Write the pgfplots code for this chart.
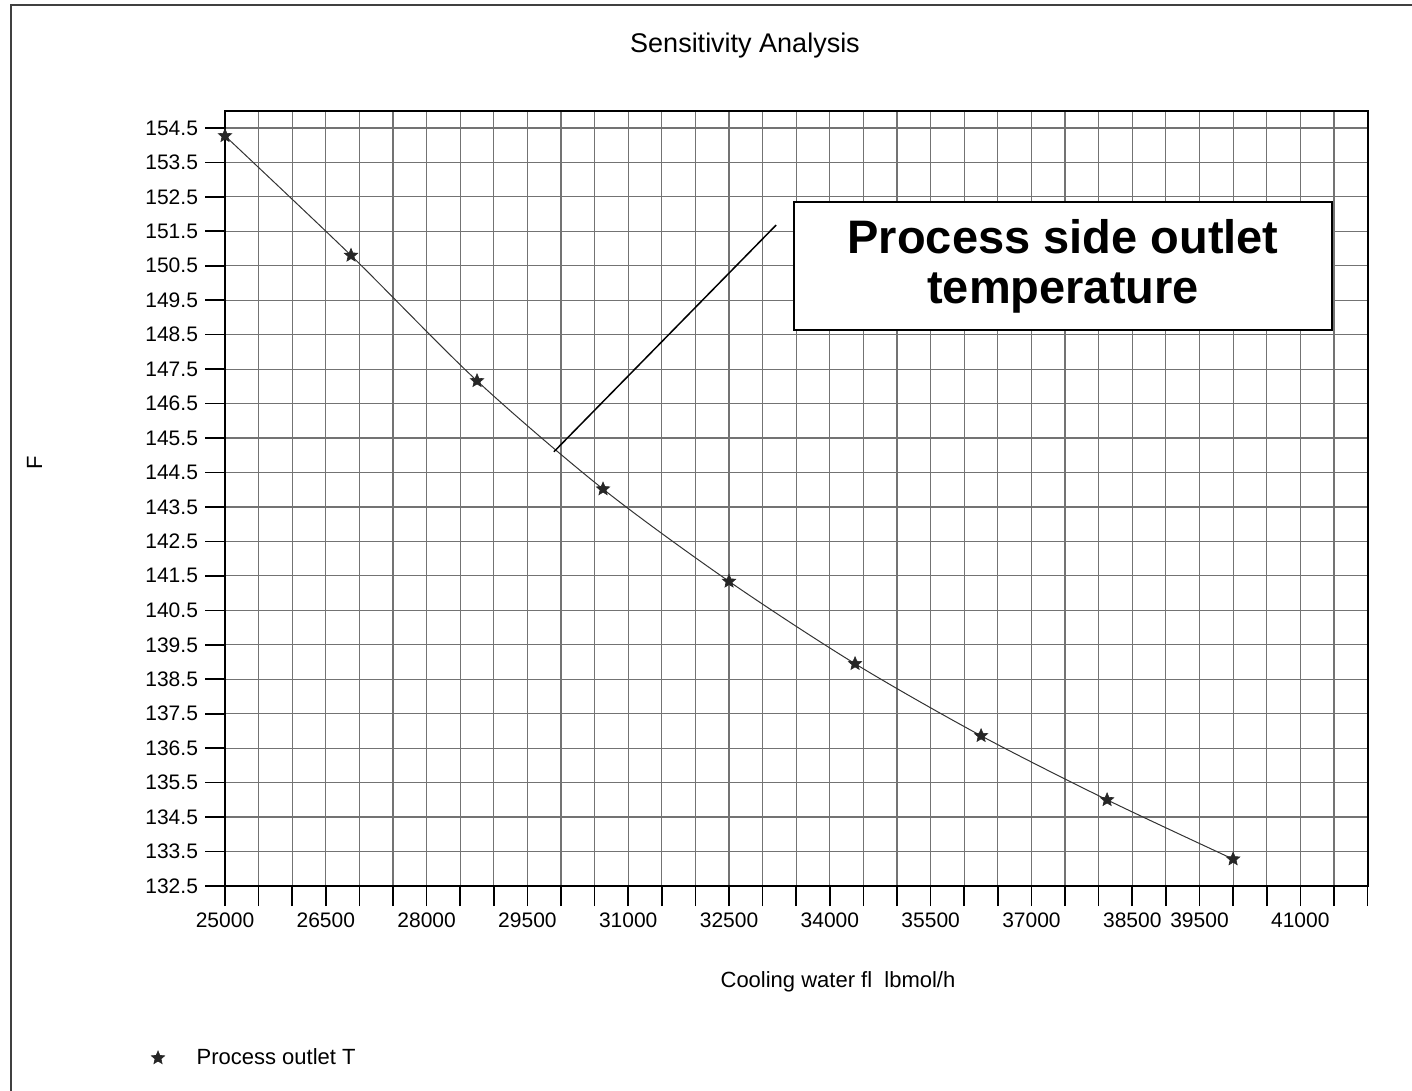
\documentclass[border=0pt]{standalone}
\usepackage{fontspec}
\setmainfont{Liberation Sans}
\usepackage{pgfplots}
\pgfplotsset{compat=1.18}

\pgfdeclareplotmark{fstar}{%
  \pgfpathmoveto{\pgfpointpolar{90}{\pgfplotmarksize}}%
  \pgfpathlineto{\pgfpointpolar{126}{0.45\pgfplotmarksize}}%
  \pgfpathlineto{\pgfpointpolar{162}{\pgfplotmarksize}}%
  \pgfpathlineto{\pgfpointpolar{198}{0.45\pgfplotmarksize}}%
  \pgfpathlineto{\pgfpointpolar{234}{\pgfplotmarksize}}%
  \pgfpathlineto{\pgfpointpolar{270}{0.45\pgfplotmarksize}}%
  \pgfpathlineto{\pgfpointpolar{306}{\pgfplotmarksize}}%
  \pgfpathlineto{\pgfpointpolar{342}{0.45\pgfplotmarksize}}%
  \pgfpathlineto{\pgfpointpolar{18}{\pgfplotmarksize}}%
  \pgfpathlineto{\pgfpointpolar{54}{0.45\pgfplotmarksize}}%
  \pgfpathclose
  \pgfusepathqfillstroke}

\begin{document}
\begin{tikzpicture}
\useasboundingbox (0,0) rectangle (706pt,545.5pt);
\draw[line width=1pt, black!75] (5.35pt,0pt) -- (5.35pt,543pt) -- (706pt,543pt);
\begin{axis}[
  at={(112.5pt,102.5pt)}, anchor=south west,
  scale only axis, width=571.25pt, height=387.65pt,
  xmin=25000, xmax=42000, ymin=132.5, ymax=155,
  xtick={25000,25500,...,42000},
  xticklabels={25000,,,26500,,,28000,,,29500,,,31000,,,32500,,,34000,,,35500,,,37000,,,38500,,39500,,,41000,,},
  ytick={132.5,133.5,...,154.5},
  scaled x ticks=false,
  grid=major,
  major grid style={black!55, line width=0.6pt},
  tick align=outside, tick pos=left,
  major tick length=10pt,
  tick style={black, line width=0.8pt},
  axis line style={black, line width=1pt},
  y tick label style={/pgf/number format/.cd, fixed, fixed zerofill, precision=1},
  /pgf/number format/assume math mode=true,
  tick label style={font=\fontsize{10.5}{12}\selectfont},
  legend style={draw=none, fill=none, at={(axis description cs:-0.0648,-0.2218)}, anchor=west,
    inner sep=0pt, font=\fontsize{11}{13}\selectfont,
    /tikz/every odd column/.append style={column sep=14pt}},
  legend image code/.code={\draw[only marks,#1] plot coordinates {(0pt,0pt)};},
  clip=false,
]
\addplot[smooth, black!80, line width=0.5pt, mark=fstar, mark size=3.5pt,
  mark options={fill=black!85, draw=black!85, line width=0.3pt}] coordinates {
  (25000,154.27) (26875,150.80) (28750,147.16) (30625,144.02) (32500,141.34)
  (34375,138.95) (36250,136.86) (38125,135.00) (40000,133.28)};
\addlegendentry{Process outlet T}
\draw[black, line width=0.75pt] (axis cs:29893,145.1) -- (axis cs:33200,151.68);
\node[draw=black, line width=1pt, fill=white, minimum width=269pt, minimum height=64pt,
  align=center, inner sep=0pt, font=\fontsize{23.5}{25}\selectfont\bfseries]
  at (axis cs:37470,150.48) {Process side outlet\\temperature};
\end{axis}
\node[font=\fontsize{13.5}{16}\selectfont] at (372.5pt,522.5pt) {Sensitivity Analysis};
\node[font=\fontsize{11}{13}\selectfont] at (419pt,54.5pt) {Cooling water f\kern0pt l\ \ lbmol/h};
\node[font=\fontsize{11}{13}\selectfont, rotate=90] at (17.25pt,314pt) {F};
\end{tikzpicture}
\end{document}
